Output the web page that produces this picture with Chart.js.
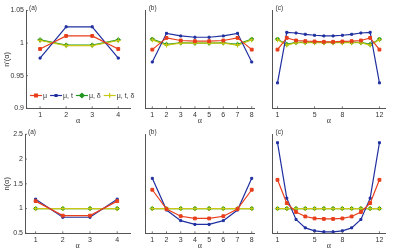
<!DOCTYPE html>
<html>
<head>
<meta charset="utf-8">
<script src="https://cdn.jsdelivr.net/npm/chart.js@4/dist/chart.umd.min.js"></script>
<style>
html, body { margin: 0; padding: 0; background: #fff; }
#wrap { position: relative; width: 399px; height: 250px; }
#wrap canvas { position: absolute; left: 0; top: 0; }
</style>
</head>
<body>
<div id="wrap">
    <canvas id="ta" width="399" height="250"></canvas>
    <canvas id="tb" width="399" height="250"></canvas>
    <canvas id="tc" width="399" height="250"></canvas>
    <canvas id="ba" width="399" height="250"></canvas>
    <canvas id="bb" width="399" height="250"></canvas>
    <canvas id="bc" width="399" height="250"></canvas>
</div>
<script>
// eixos alfa
var alphaA = [1, 2, 3, 4];
var alphaB = [1, 2, 3, 4, 5, 6, 7, 8];
var alphaC = [1, 2, 3, 4, 5, 6, 7, 8, 9, 10, 11, 12];
var xTicksA = [1, 2, 3, 4];
var xTicksB = [1, 2, 3, 4, 5, 6, 7, 8];
var xTicksC = [1, 5, 8, 12];
var yTicksTop = [0.9, 0.95, 1, 1.05];
var yTicksBottom = [0.5, 1, 1.5, 2, 2.5];

var seriesNames = ['μ', 'μ, t', 'μ, δ', 'μ, t, δ'];

// linha de cima: n'(alfa)
var topA_mu   = [0.991, 1.011, 1.011, 0.991];
var topA_mut  = [0.977, 1.025, 1.025, 0.977];
var topA_mud  = [1.005, 0.997, 0.997, 1.005];
var topA_mutd = [1.004, 0.996, 0.996, 1.004];

var topB_mu   = [0.990, 1.008, 1.004, 1.003, 1.003, 1.004, 1.008, 0.990];
var topB_mut  = [0.971, 1.015, 1.011, 1.009, 1.009, 1.011, 1.015, 0.971];
var topB_mud  = [1.006, 0.998, 1.0005, 1.000, 1.000, 1.0005, 0.998, 1.006];
var topB_mutd = [1.005, 0.997, 1.000, 1.000, 1.000, 1.000, 0.997, 1.005];

var topC_mu   = [0.990, 1.008, 1.004, 1.003, 1.0025, 1.002, 1.002, 1.0025, 1.003, 1.004, 1.008, 0.990];
var topC_mut  = [0.939, 1.0165, 1.0155, 1.0135, 1.012, 1.011, 1.011, 1.012, 1.0135, 1.0155, 1.0165, 0.939];
var topC_mud  = [1.006, 0.998, 1.001, 1.001, 1.001, 1.001, 1.001, 1.001, 1.001, 1.001, 0.998, 1.006];
var topC_mutd = [1.005, 0.997, 1.0005, 1.0005, 1.0005, 1.0005, 1.0005, 1.0005, 1.0005, 1.0005, 0.997, 1.005];

// linha de baixo: n(alfa)
var botA_mu   = [1.15, 0.857, 0.857, 1.15];
var botA_mut  = [1.19, 0.824, 0.824, 1.19];
var botA_mud  = [1, 1, 1, 1];
var botA_mutd = [1, 1, 1, 1];

var botB_mu   = [1.38, 0.99, 0.845, 0.80, 0.80, 0.845, 0.99, 1.38];
var botB_mut  = [1.61, 0.97, 0.756, 0.68, 0.68, 0.756, 0.97, 1.61];
var botB_mud  = [1, 1, 1, 1, 1, 1, 1, 1];
var botB_mutd = [1, 1, 1, 1, 1, 1, 1, 1];

var botC_mu   = [1.58, 1.11, 0.93, 0.84, 0.80, 0.79, 0.79, 0.80, 0.84, 0.93, 1.11, 1.58];
var botC_mut  = [2.33, 1.21, 0.78, 0.61, 0.55, 0.53, 0.53, 0.55, 0.61, 0.78, 1.21, 2.33];
var botC_mud  = [1, 1, 1, 1, 1, 1, 1, 1, 1, 1, 1, 1];
var botC_mutd = [1, 1, 1, 1, 1, 1, 1, 1, 1, 1, 1, 1];

var RED = 'rgb(232, 62, 28)';
var BLUE = 'rgb(32, 48, 160)';
var GREEN = 'rgb(34, 150, 34)';
var YELLOW = 'rgb(200, 200, 20)';
var AXIS = '#555';
var SANS = '"Liberation Sans", Arial, sans-serif';
var SERIF = '"Liberation Serif", "DejaVu Serif", serif';

function toPoints(xs, ys) {
    return xs.map(function(x, i) { return { x: x, y: ys[i] }; });
}

function makeSets(xs, mu, mut, mud, mutd) {
    var base = { borderWidth: 1.2, pointBorderWidth: 1, pointHoverRadius: 0 };
    return [
        Object.assign({ label: seriesNames[0], data: toPoints(xs, mu), borderColor: RED, backgroundColor: RED, pointStyle: 'rect', pointRadius: 2 }, base),
        Object.assign({ label: seriesNames[1], data: toPoints(xs, mut), borderColor: BLUE, backgroundColor: BLUE, pointStyle: 'rect', pointRadius: 1.4 }, base),
        Object.assign({ label: seriesNames[3], data: toPoints(xs, mutd), borderColor: YELLOW, backgroundColor: YELLOW, pointStyle: 'cross', pointRadius: 2.5 }, base),
        Object.assign({ label: seriesNames[2], data: toPoints(xs, mud), borderColor: GREEN, backgroundColor: GREEN, pointStyle: 'rectRot', pointRadius: 2.2 }, base)
    ];
}

// rótulo (a), (b), (c) e marcas de escala para dentro
var panelLabelPlugin = {
    id: 'panelLabel',
    afterDraw: function(chart, args, opts) {
        var ctx = chart.ctx, a = chart.chartArea;
        ctx.save();
        ctx.strokeStyle = AXIS;
        ctx.lineWidth = 0.8;
        chart.scales.x.ticks.forEach(function(t) {
            var px = chart.scales.x.getPixelForValue(t.value);
            ctx.beginPath();
            ctx.moveTo(px, a.bottom);
            ctx.lineTo(px, a.bottom - 2);
            ctx.stroke();
        });
        if (opts.yMarks) {
            chart.scales.y.ticks.forEach(function(t) {
                var py = chart.scales.y.getPixelForValue(t.value);
                ctx.beginPath();
                ctx.moveTo(a.left, py);
                ctx.lineTo(a.left + 2, py);
                ctx.stroke();
            });
        }
        if (opts.text) {
            ctx.font = '6.5px ' + SANS;
            ctx.fillStyle = '#333';
            ctx.textBaseline = 'middle';
            ctx.fillText(opts.text, a.left + 3, a.top - 2);
        }
        ctx.restore();
    }
};

// legenda dentro do painel
var legendPlugin = {
    id: 'innerLegend',
    afterDraw: function(chart, args, opts) {
        if (!opts.show) return;
        var ctx = chart.ctx;
        var order = [0, 1, 3, 2];
        var x = opts.x, y = opts.y;
        ctx.save();
        ctx.font = '7px ' + SANS;
        ctx.textBaseline = 'middle';
        order.forEach(function(idx) {
            var ds = chart.data.datasets[idx];
            ctx.strokeStyle = ds.borderColor;
            ctx.fillStyle = ds.borderColor;
            ctx.lineWidth = 1.2;
            ctx.beginPath();
            ctx.moveTo(x, y);
            ctx.lineTo(x + 12, y);
            ctx.stroke();
            Chart.helpers.drawPoint(ctx, {
                pointStyle: ds.pointStyle, radius: ds.pointRadius, rotation: 0, borderWidth: 1
            }, x + 6, y);
            ctx.fillStyle = '#333';
            ctx.fillText(ds.label, x + 13, y + 0.5);
            x += 13 + ctx.measureText(ds.label).width + 3;
        });
        ctx.restore();
    }
};

function makePanel(id, p) {
    var ctx = document.getElementById(id).getContext('2d');
    var sets = makeSets(p.xs, p.mu, p.mut, p.mud, p.mutd);
    return new Chart(ctx, {
        type: 'line',
        data: { datasets: sets },
        options: {
            responsive: false,
            animation: false,
            events: [],
            layout: { padding: { left: 0, top: p.top, right: 399 - p.right, bottom: 250 - p.bottom - 17 } },
            elements: { line: { tension: 0 }, point: { hoverRadius: 0 } },
            plugins: {
                legend: { display: false },
                tooltip: { enabled: false },
                panelLabel: { text: p.label, yMarks: p.showY },
                innerLegend: { show: !!p.legend, x: 30, y: 95.5 }
            },
            scales: {
                x: {
                    type: 'linear',
                    min: p.xMin,
                    max: p.xMax,
                    grid: { display: false, drawTicks: false },
                    border: { display: true, color: AXIS, width: 1 },
                    afterBuildTicks: function(scale) {
                        scale.ticks = p.xTicks.map(function(v) { return { value: v }; });
                    },
                    afterFit: function(scale) { scale.height = 17; },
                    ticks: {
                        autoSkip: false, maxRotation: 0, padding: 2.5,
                        color: '#333', font: { family: SANS, size: 7 },
                        callback: function(v) { return String(v); }
                    },
                    title: {
                        display: true, text: 'α', color: '#333',
                        font: { family: SERIF, size: 8, lineHeight: 1 },
                        padding: { top: 0, bottom: 0 }
                    }
                },
                y: {
                    type: 'linear',
                    min: p.yMin,
                    max: p.yMax,
                    grid: { display: false, drawTicks: false },
                    border: { display: true, color: AXIS, width: 1 },
                    afterBuildTicks: function(scale) {
                        scale.ticks = p.yTicks.map(function(v) { return { value: v }; });
                    },
                    afterFit: function(scale) { scale.width = p.left; },
                    ticks: {
                        display: p.showY, padding: 2,
                        color: '#333', font: { family: SANS, size: 7 },
                        callback: function(v) { return String(+v.toFixed(2)); }
                    },
                    title: {
                        display: p.showY, text: p.yTitle, color: '#333',
                        font: { family: SANS, size: 7.5, lineHeight: 1 },
                        padding: { top: 3, bottom: 0 }
                    }
                }
            }
        },
        plugins: [panelLabelPlugin, legendPlugin]
    });
}

var TOP = 10.5, TOP_B = 108.3, BOT = 134.3, BOT_B = 233.3;

makePanel('ta', { xs: alphaA, mu: topA_mu, mut: topA_mut, mud: topA_mud, mutd: topA_mutd,
    left: 26, right: 130, top: TOP, bottom: TOP_B, xMin: 0.46, xMax: 4.45, xTicks: xTicksA,
    yMin: 0.9, yMax: 1.05, yTicks: yTicksTop, showY: true, yTitle: "n'(α)", label: '(a)', legend: true });
makePanel('tb', { xs: alphaB, mu: topB_mu, mut: topB_mut, mud: topB_mud, mutd: topB_mutd,
    left: 145.7, right: 254, top: TOP, bottom: TOP_B, xMin: 0.535, xMax: 8.16, xTicks: xTicksB,
    yMin: 0.9, yMax: 1.05, yTicks: yTicksTop, showY: false, yTitle: '', label: '(b)' });
makePanel('tc', { xs: alphaC, mu: topC_mu, mut: topC_mut, mud: topC_mud, mutd: topC_mutd,
    left: 272.5, right: 385, top: TOP, bottom: TOP_B, xMin: 0.46, xMax: 12.6, xTicks: xTicksC,
    yMin: 0.9, yMax: 1.05, yTicks: yTicksTop, showY: false, yTitle: '', label: '(c)' });

makePanel('ba', { xs: alphaA, mu: botA_mu, mut: botA_mut, mud: botA_mud, mutd: botA_mutd,
    left: 25, right: 130, top: BOT, bottom: BOT_B, xMin: 0.61, xMax: 4.47, xTicks: xTicksA,
    yMin: 0.5, yMax: 2.5, yTicks: yTicksBottom, showY: true, yTitle: 'n(α)', label: '(a)' });
makePanel('bb', { xs: alphaB, mu: botB_mu, mut: botB_mut, mud: botB_mud, mutd: botB_mutd,
    left: 145.7, right: 254, top: BOT, bottom: BOT_B, xMin: 0.535, xMax: 8.16, xTicks: xTicksB,
    yMin: 0.5, yMax: 2.5, yTicks: yTicksBottom, showY: false, yTitle: '', label: '(b)' });
makePanel('bc', { xs: alphaC, mu: botC_mu, mut: botC_mut, mud: botC_mud, mutd: botC_mutd,
    left: 272.5, right: 385, top: BOT, bottom: BOT_B, xMin: 0.46, xMax: 12.6, xTicks: xTicksC,
    yMin: 0.5, yMax: 2.5, yTicks: yTicksBottom, showY: false, yTitle: '', label: '(c)' });
</script>
</body>
</html>
